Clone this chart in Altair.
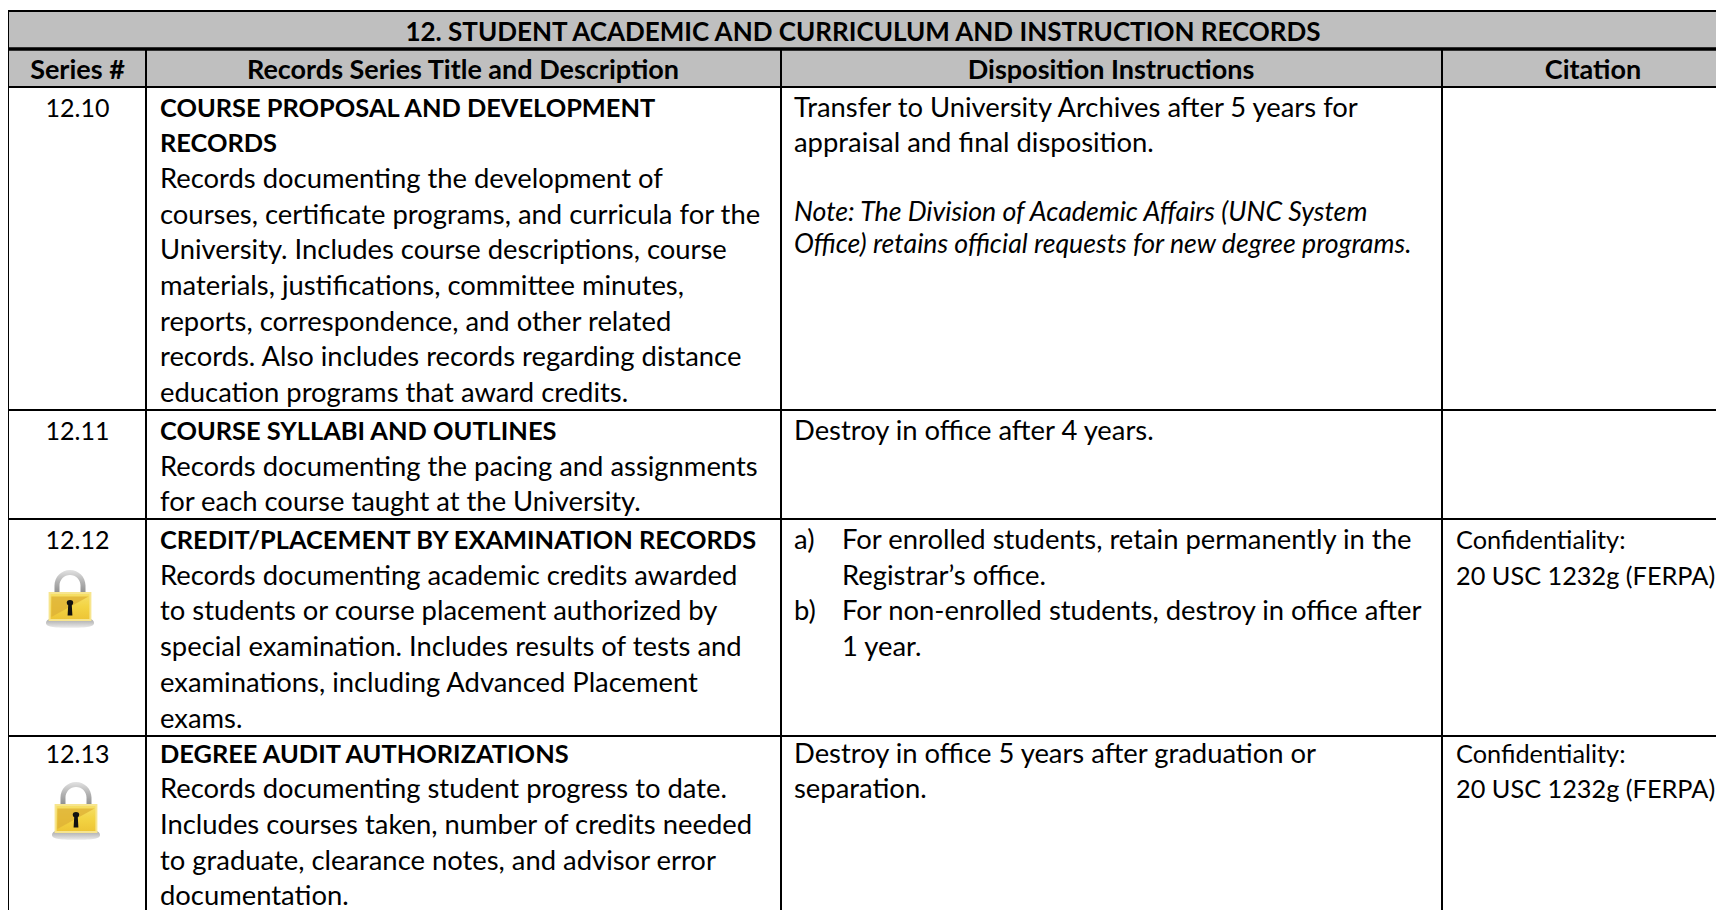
import altair as alt
import pandas as pd

TITLE = "12. STUDENT ACADEMIC AND CURRICULUM AND INSTRUCTION RECORDS"
HEADERS = ["Series #", "Records Series Title and Description", "Disposition Instructions", "Citation"]
SERIES = ["12.10", "12.11", "12.12", "12.13"]
RECORD_TITLES = [
    ["COURSE PROPOSAL AND DEVELOPMENT", "RECORDS"],
    ["COURSE SYLLABI AND OUTLINES"],
    ["CREDIT/PLACEMENT BY EXAMINATION RECORDS"],
    ["DEGREE AUDIT AUTHORIZATIONS"],
]
RECORD_TEXT = [
    ["Records documenting the development of",
     "courses, certificate programs, and curricula for the",
     "University. Includes course descriptions, course",
     "materials, justifications, committee minutes,",
     "reports, correspondence, and other related",
     "records. Also includes records regarding distance",
     "education programs that award credits."],
    ["Records documenting the pacing and assignments",
     "for each course taught at the University."],
    ["Records documenting academic credits awarded",
     "to students or course placement authorized by",
     "special examination. Includes results of tests and",
     "examinations, including Advanced Placement",
     "exams."],
    ["Records documenting student progress to date.",
     "Includes courses taken, number of credits needed",
     "to graduate, clearance notes, and advisor error",
     "documentation."],
]
DISPOSITION = [
    ["Transfer to University Archives after 5 years for", "appraisal and final disposition."],
    ["Destroy in office after 4 years."],
    [],
    ["Destroy in office 5 years after graduation or", "separation."],
]
NOTE = ["Note: The Division of Academic Affairs (UNC System",
        "Office) retains official requests for new degree programs."]
LIST_MARKS = ["a)", "", "b)", ""]
LIST_TEXT = ["For enrolled students, retain permanently in the", "Registrar\u2019s office.",
             "For non-enrolled students, destroy in office after", "1 year."]
CITATION = [[], [], ["Confidentiality:", "20 USC 1232g (FERPA)"], ["Confidentiality:", "20 USC 1232g (FERPA)"]]

# layout, in page pixels (the chart's box ends at 1716 on the right)
RIGHT, PAGE_H = 1716, 910
LEFT, C1, C2, C3 = 8, 146, 781, 1442
TOP, TITLE_BOTTOM, HEAD_BOTTOM = 11, 49, 87
ROW_BOTTOMS = [410, 519, 736]
ROW_FIRST = [108.5, 432, 541, 754.5]
STEP = 35.7
NOTE_Y = [213, 245]
PAD = 14
LOCKS = [(70, 599), (76, 811)]
BODY = 27.4

X = alt.X("x:Q", scale=alt.Scale(domain=[8, RIGHT], range=[0, RIGHT - 8]), axis=None)
Y = alt.Y("y:Q", scale=alt.Scale(domain=[8, PAGE_H], range=[0, PAGE_H - 8]), axis=None)

fills = pd.DataFrame([{"x": LEFT, "x2": RIGHT, "y": TOP, "y2": HEAD_BOTTOM}])
fill_layer = alt.Chart(fills).mark_rect(color="#BFBFBF").encode(X, alt.X2("x2:Q"), Y, alt.Y2("y2:Q"))


def rule_rows():
    rows = []
    for x, y0 in [(LEFT, TOP), (C1, TITLE_BOTTOM), (C2, TITLE_BOTTOM), (C3, TITLE_BOTTOM)]:
        rows.append({"x": x, "x2": x, "y": y0, "y2": PAGE_H, "w": 2})
    rows.append({"x": LEFT, "x2": RIGHT, "y": TOP, "y2": TOP, "w": 2})
    rows.append({"x": LEFT, "x2": RIGHT, "y": TITLE_BOTTOM, "y2": TITLE_BOTTOM, "w": 3.5})
    rows.append({"x": LEFT, "x2": RIGHT, "y": HEAD_BOTTOM, "y2": HEAD_BOTTOM, "w": 2})
    for y in ROW_BOTTOMS:
        rows.append({"x": LEFT, "x2": RIGHT, "y": y, "y2": y, "w": 2})
    return pd.DataFrame(rows)


rule_layer = alt.Chart(rule_rows()).mark_rule(color="#000000").encode(
    X, alt.X2("x2:Q"), Y, alt.Y2("y2:Q"),
    strokeWidth=alt.StrokeWidth("w:Q", scale=None, legend=None),
)

title_rows, head_rows, bold_left, series_rows, regular_left, cite_rows, italic_left = [], [], [], [], [], [], []

title_rows.append({"x": 863, "y": 33, "t": TITLE})
for t, x in zip(HEADERS, [77.5, 463, 1111, 1593]):
    head_rows.append({"x": x, "y": 70.5, "t": t})

for i, top in enumerate(ROW_FIRST):
    series_rows.append({"x": 77.5, "y": top, "t": SERIES[i]})
    line = 0
    for t in RECORD_TITLES[i]:
        bold_left.append({"x": C1 + PAD, "y": top + line * STEP, "t": t})
        line += 1
    for t in RECORD_TEXT[i]:
        regular_left.append({"x": C1 + PAD, "y": top + line * STEP, "t": t})
        line += 1
    for j, t in enumerate(DISPOSITION[i]):
        regular_left.append({"x": C2 + 13, "y": top + j * STEP, "t": t})
    for j, t in enumerate(CITATION[i]):
        cite_rows.append({"x": C3 + 14, "y": top + j * STEP, "t": t})

for y, t in zip(NOTE_Y, NOTE):
    italic_left.append({"x": C2 + 13, "y": y, "t": t})
for j, (m, t) in enumerate(zip(LIST_MARKS, LIST_TEXT)):
    y = ROW_FIRST[2] + j * STEP
    if m:
        regular_left.append({"x": C2 + 13, "y": y, "t": m})
    regular_left.append({"x": C2 + 61, "y": y, "t": t})


def text_layer(rows, align, size=BODY, weight="normal", style="normal"):
    return alt.Chart(pd.DataFrame(rows)).mark_text(
        font="Lato", fontSize=size, fontWeight=weight, fontStyle=style,
        align=align, baseline="middle", color="#000000",
    ).encode(X, Y, text="t:N")


lock_df = pd.DataFrame({"x": [p[0] for p in LOCKS], "y": [p[1] for p in LOCKS]})
SHADOW = "M-0.8,0.8 C-0.8,0.66 -0.6,0.6 0,0.6 C0.6,0.6 0.8,0.66 0.8,0.8 C0.8,0.92 0.6,0.96 0,0.96 C-0.6,0.96 -0.8,0.92 -0.8,0.8 Z"
SHACKLE = ("M-0.517,-0.2 L-0.517,-0.45 C-0.517,-0.735 -0.285,-0.967 0,-0.967 "
           "C0.285,-0.967 0.517,-0.735 0.517,-0.45 L0.517,-0.2 L0.35,-0.2 L0.35,-0.45 "
           "C0.35,-0.643 0.193,-0.8 0,-0.8 C-0.193,-0.8 -0.35,-0.643 -0.35,-0.45 L-0.35,-0.2 Z")
BODY_PATH = "M-0.68,-0.2 L0.68,-0.2 L0.68,0.7 L-0.68,0.7 Z"
SHADE = "M-0.62,0.6 L0.62,-0.08 L-0.62,-0.08 Z"
HOLE = "M-0.06,0.21 C-0.13,0.15 -0.13,0.03 0,0.03 C0.13,0.03 0.13,0.15 0.06,0.21 L0.08,0.55 L-0.08,0.55 Z"


def grad(*stops):
    return alt.Gradient(gradient="linear", x1=0, x2=0, y1=0, y2=1,
                        stops=[alt.GradientStop(color=c, offset=o) for o, c in stops])


def lock_part(path, fill, opacity=1.0, stroke=None):
    opts = {"stroke": stroke, "strokeWidth": 2} if stroke else {"strokeWidth": 0}
    return alt.Chart(lock_df).mark_point(
        shape=path, size=3600, filled=True, fill=fill, opacity=opacity, **opts,
    ).encode(X, Y)


lock_layers = [
    lock_part(SHADOW, grad((0, "#7f7f7f"), (1, "#e6e6e6")), 0.8),
    lock_part(SHACKLE, grad((0, "#e2e2e2"), (0.5, "#b4b4b4"), (1, "#8e8e8e"))),
    lock_part(BODY_PATH, grad((0, "#f6e06a"), (0.5, "#f3d443"), (1, "#edc435")), stroke="#f7e58e"),
    lock_part(SHADE, "#deb236", 0.8),
    lock_part(HOLE, "#111111"),
]

chart = alt.layer(
    fill_layer,
    rule_layer,
    text_layer(title_rows, "center", size=26, weight="bold"),
    text_layer(head_rows, "center", size=27, weight="bold"),
    text_layer(bold_left, "left", size=25.4, weight="bold"),
    text_layer(series_rows, "center", size=25),
    text_layer(regular_left, "left"),
    text_layer(cite_rows, "left", size=25.3),
    text_layer(italic_left, "left", size=26.7, style="italic"),
    *lock_layers,
).properties(
    width=RIGHT - 8, height=PAGE_H - 8, padding=0, autosize=alt.AutoSizeParams(type="none"),
    background="#ffffff",
).configure_view(stroke=None)

chart.save("out.html", embed_options={"renderer": "svg", "actions": False})
